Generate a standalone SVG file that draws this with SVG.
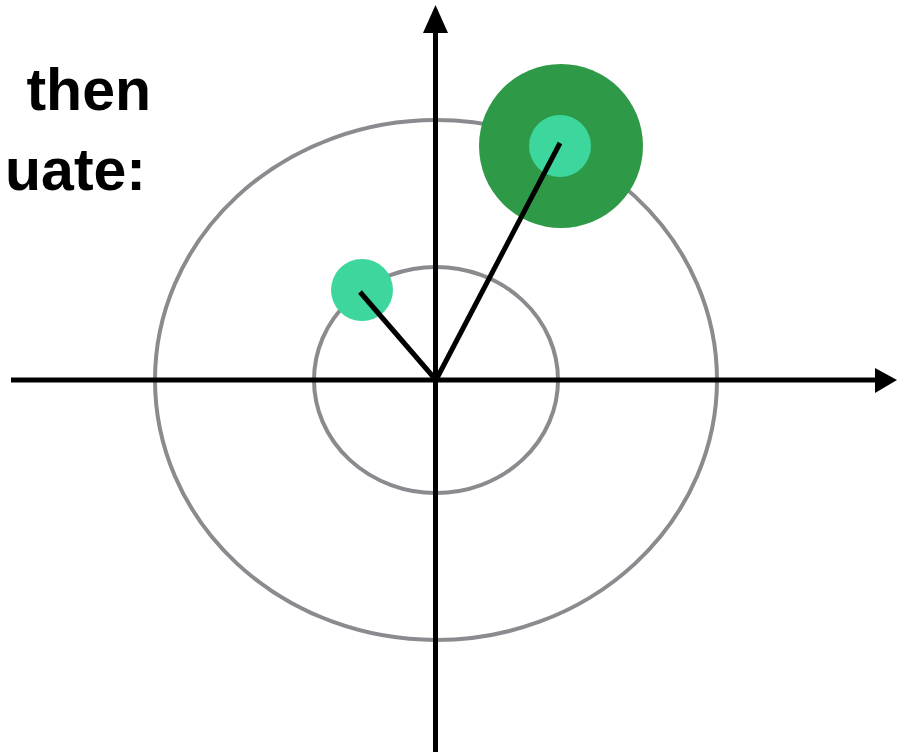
<svg xmlns="http://www.w3.org/2000/svg" width="897" height="752" viewBox="0 0 897 752">
<style>
.ring{fill:none;stroke:#8a8b8f;stroke-width:4}
.axis{stroke:#000;stroke-width:5;fill:none}
.vec{stroke:#000;stroke-width:5;stroke-linecap:butt}
.lbl{font-family:"Liberation Sans",Arial,sans-serif;font-weight:bold;font-size:59px;fill:#000}
</style>
<rect width="897" height="752" fill="#fff"/>
<g id="label">
<text class="lbl" x="151" y="110" text-anchor="end">then</text>
<text class="lbl" x="146" y="190" text-anchor="end">uate:</text>
</g>
<g id="rings">
<ellipse id="outer-ring" class="ring" cx="436" cy="380" rx="281" ry="260"/>
<ellipse id="inner-ring" class="ring" cx="436" cy="380" rx="122" ry="113"/>
</g>
<g id="big-blob"><circle cx="561" cy="146" r="82" fill="#2e9a48"/></g>
<g id="connectors">
<line class="axis" x1="11" y1="380" x2="876" y2="380"/>
<polygon points="875,368 897,380 875,393" fill="#000"/>
<line class="axis" x1="435.5" y1="752" x2="435.5" y2="30"/>
<polygon points="423,33 435.5,5 448,33" fill="#000"/>
</g>
<g id="point-a"><circle cx="362" cy="290" r="31" fill="#3dd69c"/></g>
<g id="point-b"><circle cx="560" cy="146" r="31" fill="#3dd69c"/></g>
<g id="vectors">
<line class="vec" x1="436" y1="380" x2="360" y2="292"/>
<line class="vec" x1="436" y1="380" x2="560" y2="143"/>
</g>
</svg>
